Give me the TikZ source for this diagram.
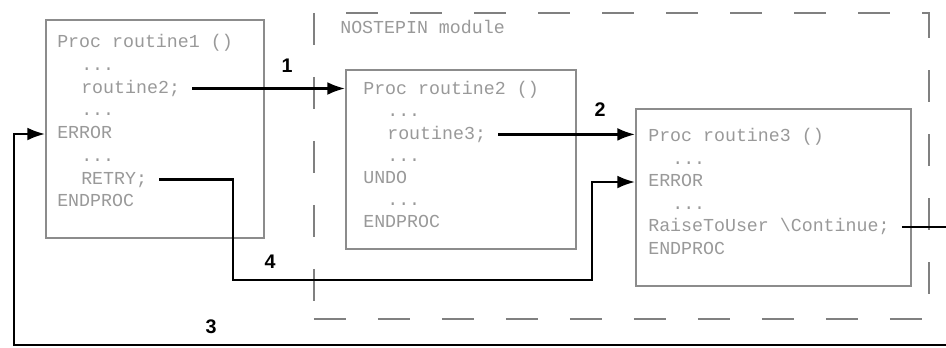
\documentclass[tikz,border=0pt]{standalone}
\usepackage{fontspec}
\setmainfont{Liberation Sans}
\newfontfamily\codefont{Liberation Mono}
\usetikzlibrary{arrows.meta}
\newcommand{\codedots}{...}

\begin{document}
\begin{tikzpicture}[
    procbox/.style={draw=black!45,line width=1.3pt,anchor=north west,inner sep=0pt},
    code/.style={anchor=west,inner sep=0pt,font=\codefont\fontsize{13}{13}\selectfont,text=black!40,text height=1.6ex,text depth=0.35ex},
    conn/.style={line width=1.6pt,-{Latex[length=4.4mm,width=3.2mm]},shorten <=3mm},
    num/.style={font=\bfseries\fontsize{14}{14}\selectfont}]
    \useasboundingbox (0,0) rectangle (23.65,-8.675);

    % module frame
    \node[procbox,draw=black!50,dash pattern=on 0.8cm off 0.8cm,minimum width=15.375cm,minimum height=7.65cm] (mod) at (7.825,-0.3) {};
    \node[code] (modlabel) at (8.5,-0.72) {NOSTEPIN module};

    % routines
    \node[procbox,minimum width=5.45cm,minimum height=5.45cm] (b1) at (1.125,-0.475) {};
    \node[procbox,minimum width=5.75cm,minimum height=4.475cm] (b2) at (8.625,-1.725) {};
    \node[procbox,minimum width=6.875cm,minimum height=4.425cm] (b3) at (15.875,-2.7) {};

    \foreach [count=\i] \t/\d in {Proc routine1 ()/0,\codedots/1,routine2;/1,\codedots/1,ERROR/0,\codedots/1,RETRY;/1,ENDPROC/0} {
        \node[code] (p1-\i) at ({1.425+0.6*\d},{-1.075-0.56875*(\i-1)}) {\t};
    }
    \foreach [count=\i] \t/\d in {Proc routine2 ()/0,\codedots/1,routine3;/1,\codedots/1,UNDO/0,\codedots/1,ENDPROC/0} {
        \node[code] (p2-\i) at ({9.075+0.6*\d},{-2.25-0.555*(\i-1)}) {\t};
    }
    \foreach [count=\i] \t/\d in {Proc routine3 ()/0,\codedots/1,ERROR/0,\codedots/1,{RaiseToUser \textbackslash{}Continue;}/0,ENDPROC/0} {
        \node[code] (p3-\i) at ({16.2+0.6*\d},{-3.425-0.5625*(\i-1)}) {\t};
    }

    % calls and error paths
    \coordinate (k4a) at (5.825,-7.0);
    \coordinate (k4b) at (14.8,-7.0);
    \coordinate (k3a) at (23.75,-8.625);
    \coordinate (k3b) at (0.35,-8.625);

    \draw[conn] (p1-3.east) -- (p1-3.east -| b2.west);
    \draw[conn] (p2-3.east) -- (p2-3.east -| b3.west);
    \draw[conn] (p3-5.east) -| (k3a) -- (k3b) |- (p1-5 -| b1.west);
    \draw[conn] (p1-7.east) -| (k4a) -- (k4b) |- (p3-3 -| b3.west);

    \node[num] (lab1) at (7.175,-1.65) {1};
    \node[num] (lab2) at (15.0,-2.75) {2};
    \node[num] (lab3) at (5.275,-8.175) {3};
    \node[num] (lab4) at (6.75,-6.55) {4};
\end{tikzpicture}
\end{document}
